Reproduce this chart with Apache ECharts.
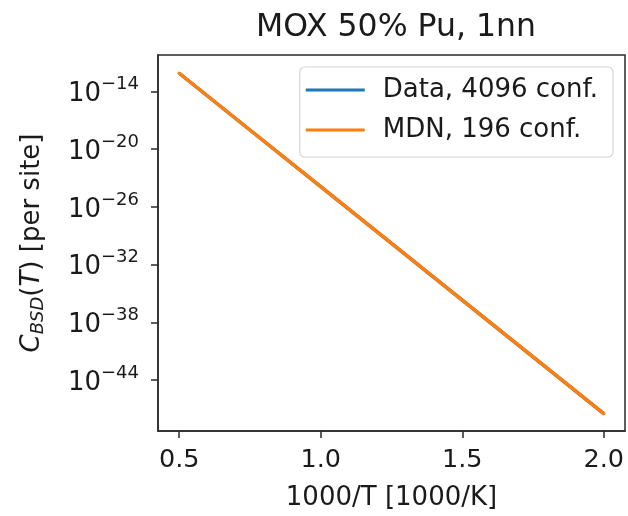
<!DOCTYPE html>
<html>
<head>
<meta charset="utf-8">
<script src="https://cdn.jsdelivr.net/npm/echarts@6/dist/echarts.min.js"></script>
<style>html,body{margin:0;padding:0;background:#fff}#c{width:628px;height:516px}</style>
</head>
<body>
<div id="c"></div>
<script>
const invT = [0.5, 0.75, 1.0, 1.25, 1.5, 1.75, 2.0];
const dataConc = [8.0e-13, 1.0e-18, 1.3e-24, 1.6e-30, 2.0e-36, 2.5e-42, 3.2e-48];
const mdnConc  = [8.0e-13, 1.0e-18, 1.3e-24, 1.6e-30, 2.0e-36, 2.5e-42, 3.2e-48];
const xTicks = [0.5, 1.0, 1.5, 2.0];
const yTicks = [1e-14, 1e-20, 1e-26, 1e-32, 1e-38, 1e-44];
const seriesNames = ['Data, 4096 conf.', 'MDN, 196 conf.'];

const FONT = 'DejaVu Sans';
const TXT = '#1a1a1a';
const chart = echarts.init(document.getElementById('c'), null, {renderer: 'canvas'});
chart.setOption({
  animation: false,
  backgroundColor: '#fff',
  title: {
    text: 'MOX 50% Pu, 1nn',
    left: 391, top: 7, textAlign: 'center',
    textStyle: {fontFamily: FONT, fontSize: 31.5, fontWeight: 'normal', color: TXT}
  },
  grid: {left: 158, right: 3, top: 55, bottom: 84, show: true, borderColor: '#2a2a2a', borderWidth: 1.5, backgroundColor: 'transparent'},
  legend: {
    orient: 'vertical', right: 15, top: 67,
    data: seriesNames.map(n => ({name: n, icon: 'rect'})),
    itemWidth: 59, itemHeight: 3, itemGap: 10,
    padding: [8, 15, 12, 6],
    borderColor: '#d6d6d6', borderWidth: 1.2, borderRadius: 5,
    backgroundColor: 'rgba(255,255,255,0.85)',
    textStyle: {fontFamily: FONT, fontSize: 26, color: TXT, padding: [0, 0, 0, 13], lineHeight: 30}
  },
  xAxis: {
    type: 'value', min: 0.425, max: 2.075,
    name: '1000/T [1000/K]', nameLocation: 'middle', nameGap: 54,
    nameTextStyle: {fontFamily: FONT, fontSize: 26, color: TXT},
    axisLine: {show: true, lineStyle: {color: '#2a2a2a', width: 1.5}},
    axisTick: {show: true, length: 7, lineStyle: {color: '#2a2a2a', width: 1.5}, customValues: xTicks},
    axisLabel: {fontFamily: FONT, fontSize: 25.5, color: TXT, margin: 16, customValues: xTicks,
      formatter: v => v.toFixed(1)},
    splitLine: {show: false}
  },
  yAxis: {
    type: 'log', logBase: 10, min: Math.pow(10, -49.3), max: Math.pow(10, -10.2),
    name: '{c|C}{s|BSD}{n|(}{c|T}{n|) [per site]}', nameLocation: 'middle', nameGap: 110, nameRotate: 90,
    nameTextStyle: {
      fontFamily: FONT, fontSize: 26, color: TXT,
      rich: {
        c: {fontFamily: FONT, fontSize: 26, fontStyle: 'italic', color: TXT, lineHeight: 32, verticalAlign: 'middle'},
        n: {fontFamily: FONT, fontSize: 26, color: TXT, lineHeight: 32, verticalAlign: 'middle'},
        s: {fontFamily: FONT, fontSize: 18, fontStyle: 'italic', color: TXT, lineHeight: 32, verticalAlign: 'bottom', padding: [0, 0, 1, 0]}
      }
    },
    axisLine: {show: true, lineStyle: {color: '#2a2a2a', width: 1.5}},
    axisTick: {show: true, length: 7, lineStyle: {color: '#2a2a2a', width: 1.5}, customValues: yTicks},
    axisLabel: {
      margin: 19, customValues: yTicks,
      formatter: v => '{b|10}{e|\u2212' + Math.abs(Math.round(Math.log10(v))) + '}',
      rich: {
        b: {fontFamily: FONT, fontSize: 26, color: TXT, lineHeight: 32, verticalAlign: 'bottom'},
        e: {fontFamily: FONT, fontSize: 18, color: TXT, lineHeight: 32, verticalAlign: 'top'}
      }
    },
    splitLine: {show: false}
  },
  series: [
    {name: seriesNames[0], type: 'line', data: invT.map((x, i) => [x, dataConc[i]]), showSymbol: false,
      lineStyle: {color: '#1f77b4', width: 3.5}, itemStyle: {color: '#1f77b4'}},
    {name: seriesNames[1], type: 'line', data: invT.map((x, i) => [x, mdnConc[i]]), showSymbol: false,
      lineStyle: {color: '#ff7f0e', width: 3.5, cap: 'round'}, itemStyle: {color: '#ff7f0e'}}
  ]
});
</script>
</body>
</html>
